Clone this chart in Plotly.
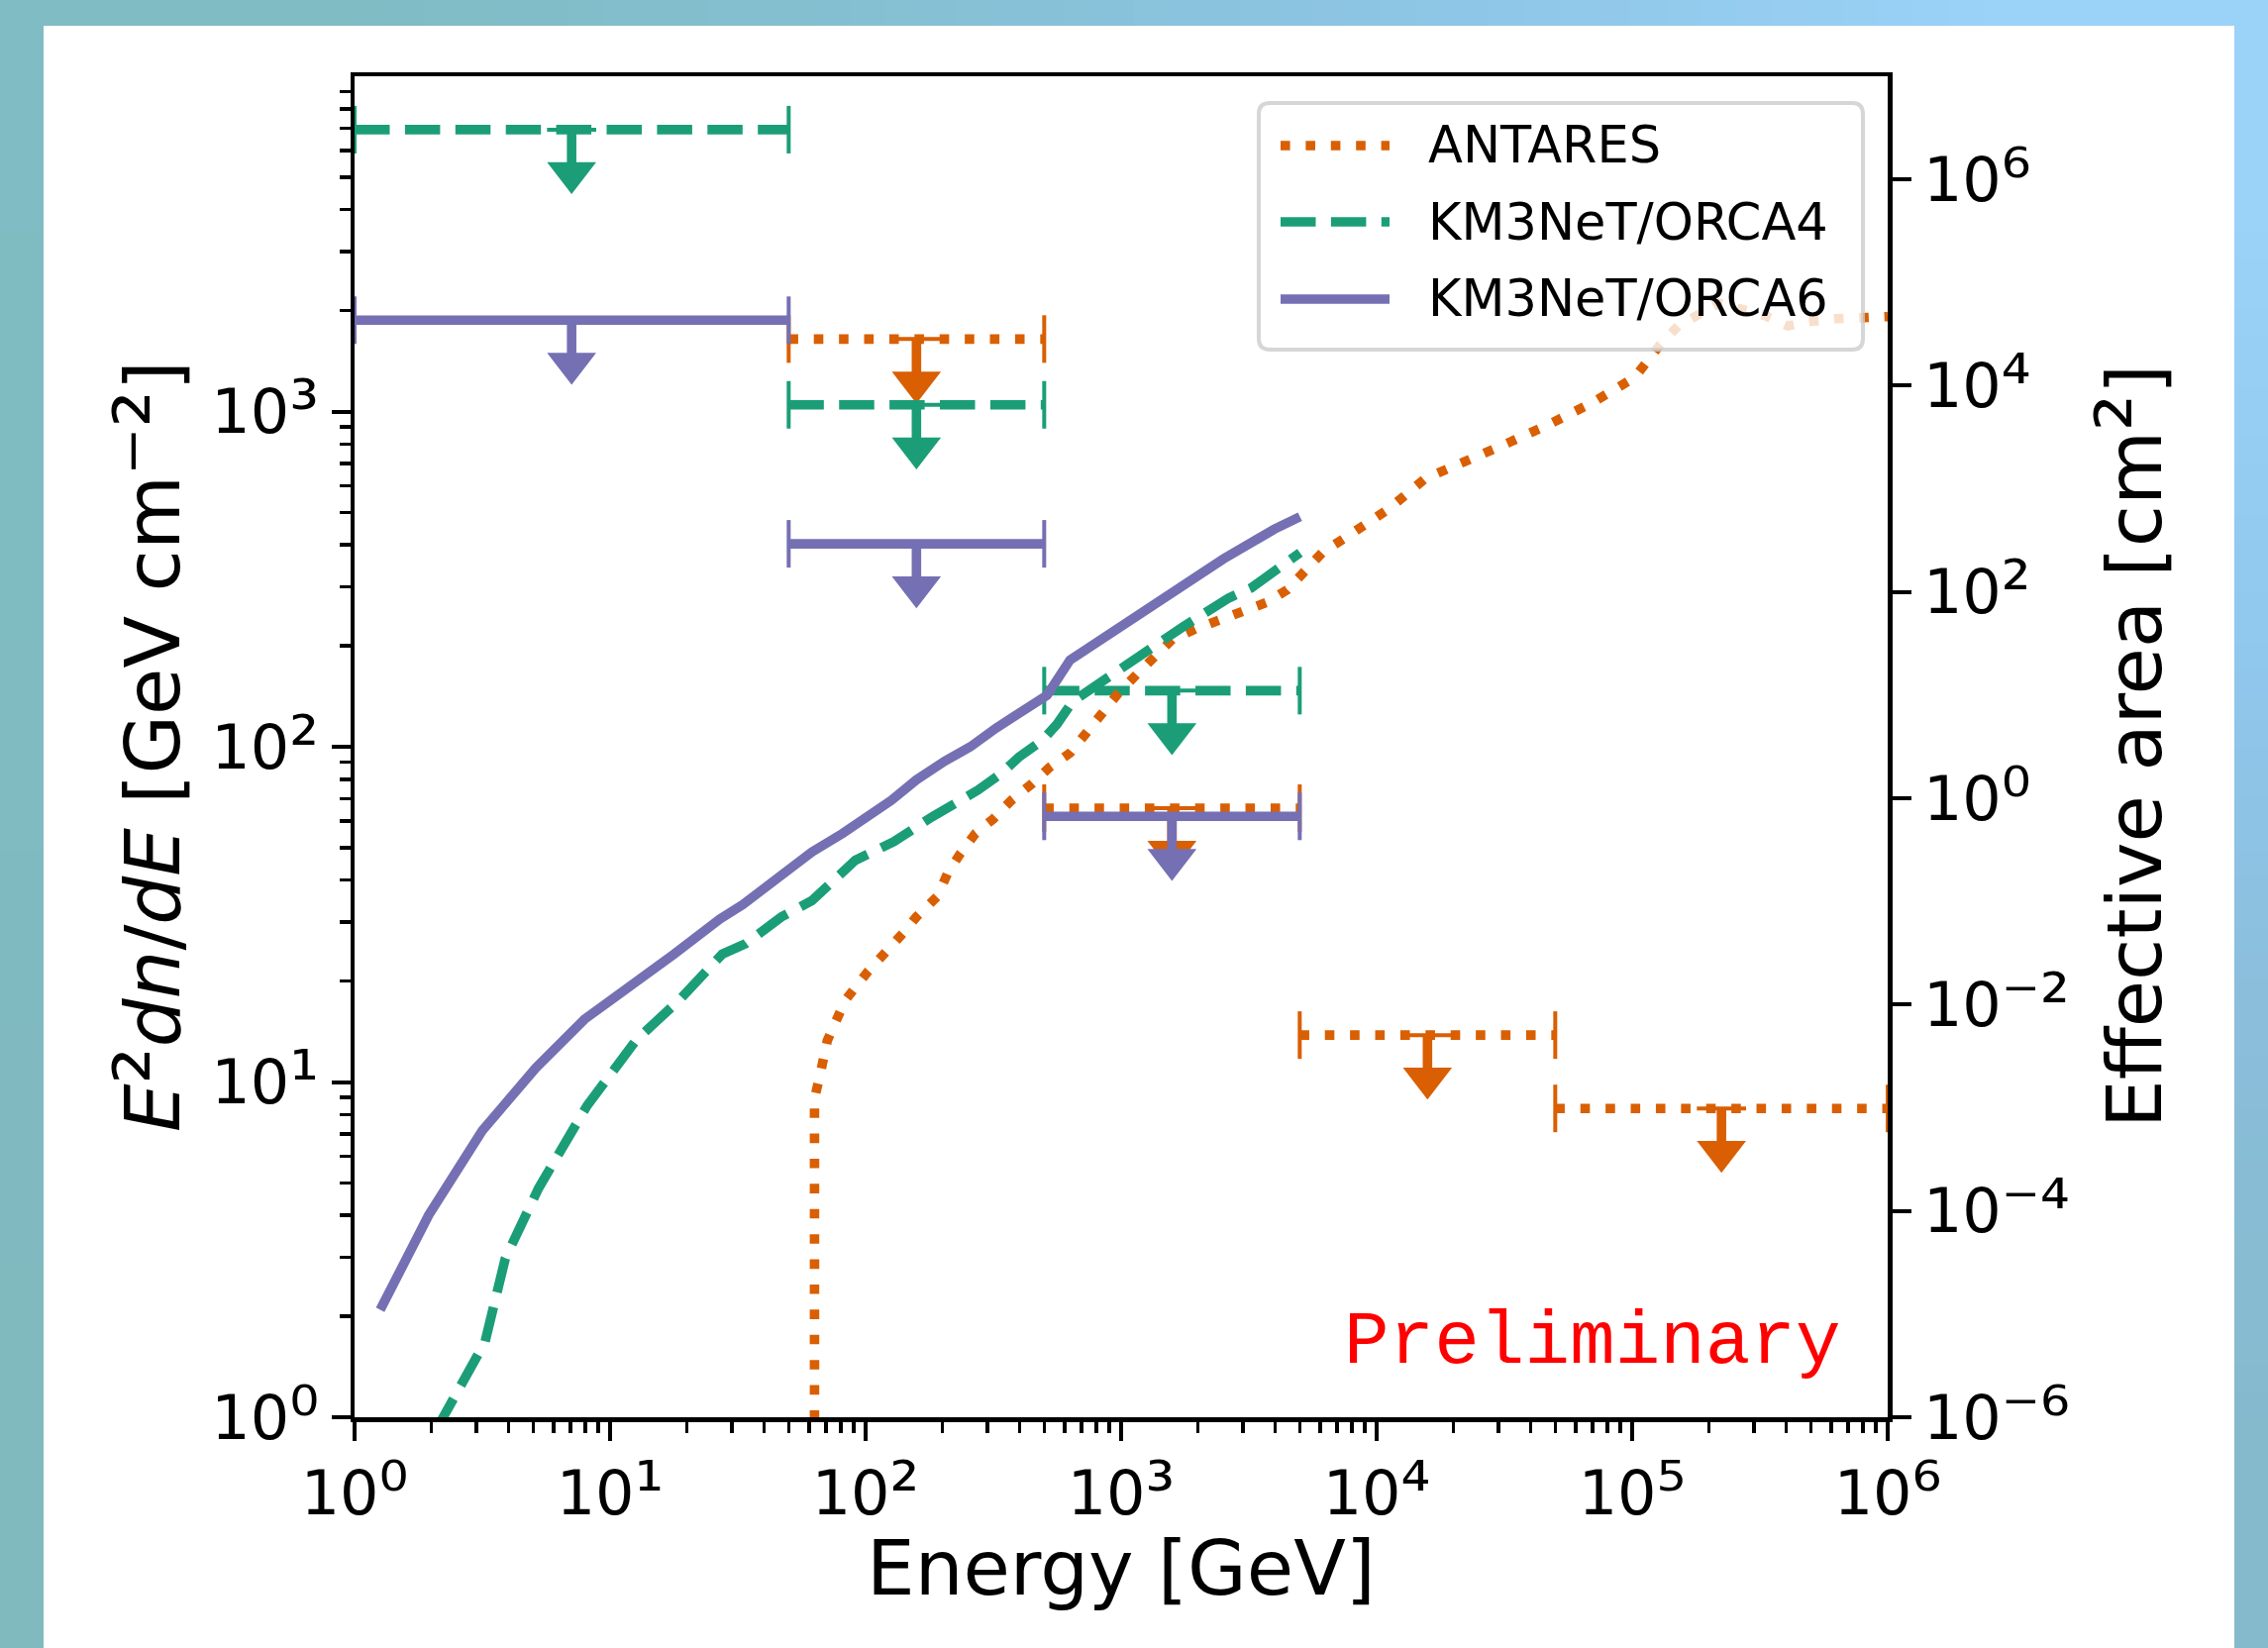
import base64
import struct
import zlib

import plotly.graph_objects as go

# ------------------------------------------------------------------ data
# upper limits  E^2 dn/dE  [GeV cm^-2]  per energy bin [GeV]
antares_e_lo = [50, 500, 5000, 50000]
antares_e_hi = [500, 5000, 50000, 1000000]
antares_ul = [1645, 65.6, 13.8, 8.34]

orca4_e_lo = [1, 50, 500]
orca4_e_hi = [50, 500, 5000]
orca4_ul = [6930, 1047, 147]

orca6_e_lo = [1, 50, 500]
orca6_e_hi = [50, 500, 5000]
orca6_ul = [1872, 403, 62.0]

# effective areas [cm^2] vs energy [GeV]
antares_aeff_e = [63.1, 63.1, 66.1, 70.8, 83.2, 102, 141, 158, 191, 209, 234, 269, 316,
                  372, 447, 525, 631, 741, 851, 977, 1148, 1349, 1585, 1950, 2399, 3020,
                  3715, 4467, 5248, 6166, 7586, 11220, 15490, 21380, 31620, 46770, 69180,
                  102300, 128800, 151400, 218800, 331100, 407400, 489800, 631000, 1000000]
antares_aeff = [1e-7, 1.23e-3, 2.0e-3, 4.47e-3, 0.011, 0.0209, 0.0501, 0.0708, 0.112, 0.186,
                0.288, 0.457, 0.631, 0.955, 1.38, 2.0, 2.75, 4.57, 6.92, 10.5, 15.8, 24.0,
                34.7, 43.7, 52.5, 63.1, 79.4, 105, 158, 245, 339, 646, 1259, 1820, 2692,
                4169, 6761, 12020, 25120, 38020, 63100, 47860, 38020, 41690, 44670, 46770]

orca4_aeff_e = [2.09, 2.63, 3.24, 3.89, 5.25, 8.13, 9.77, 12.6, 15.5, 18.6, 27.5, 33.9,
                46.8, 61.7, 91.2, 105, 129, 182, 224, 275, 339, 398, 490, 562, 646, 759,
                933, 1148, 1413, 1738, 2138, 2630, 3236, 4365, 5012]
orca4_aeff = [7.6e-7, 2.19e-6, 5.37e-6, 3.47e-5, 1.66e-4, 1.05e-3, 2.0e-3, 4.47e-3,
              7.24e-3, 0.011, 0.0309, 0.0389, 0.0708, 0.102, 0.251, 0.302, 0.380, 0.661,
              0.871, 1.20, 1.74, 2.51, 3.63, 5.25, 8.71, 11.5, 16.6, 22.9, 33.1, 45.7,
              63.1, 87.1, 110, 191, 240]

orca6_aeff_e = [1.26, 1.95, 3.16, 5.13, 7.94, 11.2, 17.8, 26.9, 33.1, 61.7, 81.3, 126,
                158, 204, 257, 324, 398, 513, 631, 1047, 1622, 2512, 3981, 5012]
orca6_aeff = [1.10e-5, 9.1e-5, 6.0e-4, 2.45e-3, 7.2e-3, 0.0132, 0.0309, 0.0676, 0.0933,
              0.302, 0.457, 0.955, 1.51, 2.29, 3.16, 4.79, 6.61, 10.0, 21.9, 50.1, 105,
              209, 407, 537]

series_names = ["ANTARES", "KM3NeT/ORCA4", "KM3NeT/ORCA6"]


def sup(s):
    # unicode superscript glyphs, slightly enlarged to mimic mathtext
    return '<span style="font-size:120%">' + s + "</span>"


x_tick_vals = [1, 10, 100, 1000, 10000, 100000, 1000000]
x_tick_text = ["10" + sup(s) for s in
               ["\u2070", "\u00b9", "\u00b2", "\u00b3", "\u2074", "\u2075", "\u2076"]]
y_tick_vals = [1, 10, 100, 1000]
y_tick_text = ["10" + sup(s) for s in ["\u2070", "\u00b9", "\u00b2", "\u00b3"]]
y2_tick_vals = [1e-6, 1e-4, 1e-2, 1, 1e2, 1e4, 1e6]
y2_tick_text = ["10" + sup(s) for s in
                ["\u207b\u2076", "\u207b\u2074", "\u207b\u00b2", "\u2070",
                 "\u00b2", "\u2074", "\u2076"]]

# ------------------------------------------------------------------ style
W, H = 2290, 1664
PL, PR, PT, PB = 358, 1906, 77, 1431          # plot area in px
C_ANT, C_O4, C_O6 = "#d95f02", "#1b9e77", "#7570b3"
LW = 9.6
DOT = "9.6px,15.8px"
DASH = "35.5px,15.4px"
FONT = "DejaVu Sans"
ARROW_DEC = 0.129          # arrow marker offset below limit (decades)


def X(px):
    return (px - PL) / (PR - PL)


def Y(py):
    return (PB - py) / (PB - PT)


def make_png(rows):
    raw = b"".join(b"\x00" + bytes([c for px in row for c in px]) for row in rows)

    def chunk(t, d):
        c = struct.pack(">I", len(d)) + t + d
        return c + struct.pack(">I", zlib.crc32(t + d) & 0xFFFFFFFF)

    return (b"\x89PNG\r\n\x1a\n"
            + chunk(b"IHDR", struct.pack(">IIBBBBB", len(rows[0]), len(rows), 8, 2, 0, 0, 0))
            + chunk(b"IDAT", zlib.compress(raw))
            + chunk(b"IEND", b""))


bg_rows = [
    [(127, 188, 195), (133, 192, 210), (142, 198, 230), (155, 210, 248)],
    [(127, 188, 194), (131, 190, 205), (138, 194, 222), (145, 200, 238)],
    [(128, 186, 192), (130, 187, 200), (134, 188, 210), (138, 190, 218)],
    [(128, 185, 190), (129, 185, 195), (131, 185, 200), (133, 186, 205)],
]
bg_uri = "data:image/png;base64," + base64.b64encode(make_png(bg_rows)).decode()

fig = go.Figure()

# ------------------------------------------------------------------ upper limits
ul_series = [
    (series_names[0], antares_e_lo, antares_e_hi, antares_ul, C_ANT, DOT),
    (series_names[1], orca4_e_lo, orca4_e_hi, orca4_ul, C_O4, DASH),
    (series_names[2], orca6_e_lo, orca6_e_hi, orca6_ul, C_O6, "solid"),
]

for name, lo, hi, ul, col, dash in ul_series:
    bx, by, sx, sy = [], [], [], []
    cx, cy, ax, ay = [], [], [], []
    for l, h, v in zip(lo, hi, ul):
        c = (l * h) ** 0.5
        tip = v * 10 ** (-ARROW_DEC)
        bx += [l, h, None]
        by += [v, v, None]
        sx += [c, c, None]
        sy += [v, tip, None]
        cx += [l, h]
        cy += [v, v]
        ax.append(c)
        ay.append(tip)
    fig.add_trace(go.Scatter(x=bx, y=by, mode="lines", name=name, showlegend=False,
                             line=dict(color=col, width=LW, dash=dash), hoverinfo="skip"))
    fig.add_trace(go.Scatter(x=sx, y=sy, mode="lines", showlegend=False,
                             line=dict(color=col, width=LW), hoverinfo="skip"))
    fig.add_trace(go.Scatter(x=cx, y=cy, mode="markers", showlegend=False,
                             marker=dict(symbol="line-ns", size=34.3,
                                         line=dict(color=col, width=4)), hoverinfo="skip"))
    fig.add_trace(go.Scatter(x=ax, y=list(ul), mode="markers", showlegend=False,
                             marker=dict(symbol="line-ew", size=35.5,
                                         line=dict(color=col, width=4)), hoverinfo="skip"))
    fig.add_trace(go.Scatter(x=ax, y=ay, mode="markers", showlegend=False,
                             marker=dict(symbol="triangle-down", size=43, color=col,
                                         line=dict(width=0)), hoverinfo="skip"))

# ------------------------------------------------------------------ effective areas
curves = [
    (series_names[0], antares_aeff_e, antares_aeff, C_ANT, DOT),
    (series_names[1], orca4_aeff_e, orca4_aeff, C_O4, DASH),
    (series_names[2], orca6_aeff_e, orca6_aeff, C_O6, "solid"),
]
for name, e, a, col, dash in curves:
    fig.add_trace(go.Scatter(x=e, y=a, mode="lines", name=name, yaxis="y2",
                             showlegend=False,
                             line=dict(color=col, width=LW, dash=dash)))

# ------------------------------------------------------------------ background / panel
shapes = [
    dict(type="rect", xref="paper", yref="paper", x0=X(44), x1=X(2256), y0=Y(26), y1=Y(H + 10),
         fillcolor="white", line=dict(width=0), layer="below"),
]

# custom legend (rounded frame, sample lines, labels)
lx0, ly0, lx1, ly1, rr = 1271, 104, 1881, 353, 11


def rounded_path(x0, y0, x1, y1, r):
    return (f"M {X(x0 + r)},{Y(y0)} L {X(x1 - r)},{Y(y0)} Q {X(x1)},{Y(y0)} {X(x1)},{Y(y0 + r)} "
            f"L {X(x1)},{Y(y1 - r)} Q {X(x1)},{Y(y1)} {X(x1 - r)},{Y(y1)} "
            f"L {X(x0 + r)},{Y(y1)} Q {X(x0)},{Y(y1)} {X(x0)},{Y(y1 - r)} "
            f"L {X(x0)},{Y(y0 + r)} Q {X(x0)},{Y(y0)} {X(x0 + r)},{Y(y0)} Z")


shapes.append(dict(type="path", xref="paper", yref="paper",
                   path=rounded_path(lx0, ly0, lx1, ly1, rr),
                   fillcolor="rgba(255,255,255,0.8)",
                   line=dict(color="rgba(204,204,204,0.8)", width=4), layer="above"))

legend_rows_y = [147, 224, 302]
legend_styles = [(C_ANT, DOT), (C_O4, DASH), (C_O6, "solid")]
annotations = []
for name, ry, (col, dash) in zip(series_names, legend_rows_y, legend_styles):
    shapes.append(dict(type="line", xref="paper", yref="paper",
                       x0=X(1293), x1=X(1403), y0=Y(ry), y1=Y(ry),
                       line=dict(color=col, width=LW, dash=dash), layer="above"))
    annotations.append(dict(xref="paper", yref="paper", x=X(1441), y=Y(ry),
                            xanchor="left", yanchor="middle", showarrow=False,
                            text=name, borderpad=0,
                            font=dict(family=FONT, size=51, color="black")))

# axis titles and the Preliminary stamp
annotations += [
    dict(xref="paper", yref="paper", x=0.5, y=Y(1583), xanchor="center", yanchor="middle",
         showarrow=False, text="Energy [GeV]", font=dict(family=FONT, size=77, color="black")),
    dict(xref="paper", yref="paper", x=X(149), y=0.5, xanchor="center", yanchor="middle",
         textangle=-90, showarrow=False,
         text="<i>E</i>" + sup("\u00b2") + "<i>dn</i>/<i>dE</i> [GeV cm"
              + sup("\u207b\u00b2") + "]",
         font=dict(family=FONT, size=77, color="black")),
    dict(xref="paper", yref="paper", x=X(2150), y=0.5, xanchor="center", yanchor="middle",
         textangle=-90, showarrow=False,
         text="Effective area [cm" + sup("\u00b2") + "]",
         font=dict(family=FONT, size=77, color="black")),
    dict(xref="paper", yref="paper", x=X(1860), y=Y(1356), xanchor="right", yanchor="middle",
         showarrow=False, text="Preliminary", borderpad=0,
         font=dict(family="Liberation Mono", size=76, color="red")),
]

x_minor = [m * 10 ** d for d in range(0, 6) for m in range(2, 10)]
y_minor = [m * 10 ** d for d in range(0, 4) for m in range(2, 10)]

axis_common = dict(showgrid=False, zeroline=False, showline=True, linecolor="black",
                   linewidth=4.5, ticks="outside", ticklen=19, tickwidth=4,
                   tickcolor="black", tickfont=dict(family=FONT, size=62, color="black"))

fig.update_layout(
    width=W, height=H,
    margin=dict(l=PL, r=W - PR, t=PT, b=H - PB, autoexpand=False),
    paper_bgcolor="rgb(128,187,194)",
    plot_bgcolor="white",
    showlegend=False,
    font=dict(family=FONT, color="black"),
    xaxis=dict(type="log", range=[0, 6], tickvals=x_tick_vals, ticktext=x_tick_text,
               mirror=True,
               minor=dict(tickvals=x_minor, ticks="outside", ticklen=11, tickwidth=3.5,
                          tickcolor="black", showgrid=False),
               **axis_common),
    yaxis=dict(type="log", range=[0, 4], tickvals=y_tick_vals, ticktext=y_tick_text,
               minor=dict(tickvals=y_minor, ticks="outside", ticklen=11, tickwidth=3.5,
                          tickcolor="black", showgrid=False),
               **axis_common),
    yaxis2=dict(type="log", range=[-6, 7], overlaying="y", side="right",
                tickvals=y2_tick_vals, ticktext=y2_tick_text, **axis_common),
    shapes=shapes,
    annotations=annotations,
    images=[dict(source=bg_uri, xref="paper", yref="paper", x=X(0), y=Y(0),
                 sizex=W / (PR - PL), sizey=H / (PB - PT), xanchor="left", yanchor="top",
                 sizing="stretch", layer="below")],
)

fig.write_html("out.html",
               config={"displayModeBar": False, "staticPlot": True},
               post_script="document.body.style.margin='0px';"
                           "document.body.style.overflow='hidden';")
